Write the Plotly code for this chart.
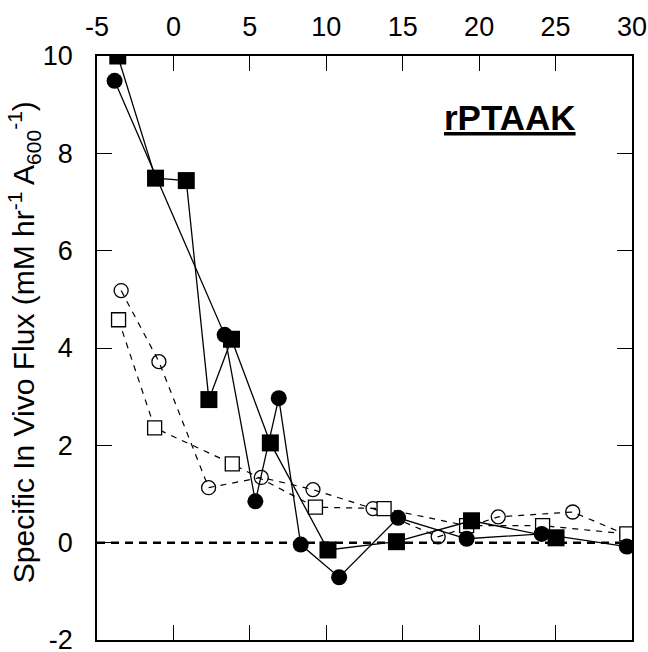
import plotly.graph_objects as go

# Filled circles (solid line)
fc_x = [-3.85, 3.35, 5.36, 6.89, 8.33, 10.84, 14.70, 19.18, 24.09, 29.66]
fc_y = [9.49, 4.27, 0.85, 2.97, -0.04, -0.71, 0.51, 0.08, 0.18, -0.08]
# Filled squares (solid line)
fs_x = [-3.64, -1.17, 0.84, 2.32, 3.80, 6.34, 10.11, 14.59, 19.50, 25.03]
fs_y = [10.0, 7.49, 7.44, 2.94, 4.18, 2.05, -0.15, 0.02, 0.45, 0.10]
# Open circles (dashed line)
oc_x = [-3.42, -0.95, 2.30, 5.75, 9.13, 13.06, 17.32, 21.25, 26.12, 29.66]
oc_y = [5.18, 3.72, 1.13, 1.34, 1.09, 0.70, 0.12, 0.53, 0.63, 0.16]
# Open squares (dashed line)
os_x = [-3.59, -1.23, 3.85, 9.29, 13.78, 19.18, 24.15, 29.66]
os_y = [4.58, 2.36, 1.62, 0.73, 0.70, 0.35, 0.35, 0.18]

x_ticks = [-5, 0, 5, 10, 15, 20, 25, 30]
x_labels = ["-5", "0", "5", "10", "15", "20", "25", "30"]
y_ticks = [-2, 0, 2, 4, 6, 8, 10]
y_labels = ["-2", "0", "2", "4", "6", "8", "10"]

FONT = "Liberation Sans, Arial, Helvetica, sans-serif"

fig = go.Figure()

fig.add_shape(type="line", xref="paper", yref="y", x0=0, x1=1, y0=0, y1=0,
              line=dict(color="black", width=2.5, dash="8px,6px"), layer="below")

fig.add_trace(go.Scatter(x=oc_x, y=oc_y, mode="lines+markers",
                         line=dict(color="black", width=1.2, dash="6px,6px"),
                         marker=dict(symbol="circle-open", size=14, color="black",
                                     line=dict(width=1.3))))
fig.add_trace(go.Scatter(x=os_x, y=os_y, mode="lines+markers",
                         line=dict(color="black", width=1.2, dash="6px,6px"),
                         marker=dict(symbol="square", size=14, color="white",
                                     line=dict(width=1.3, color="black"))))
fig.add_trace(go.Scatter(x=fc_x, y=fc_y, mode="lines+markers",
                         line=dict(color="black", width=1.3),
                         marker=dict(symbol="circle", size=16, color="black")))
fig.add_trace(go.Scatter(x=fs_x, y=fs_y, mode="lines+markers",
                         line=dict(color="black", width=1.3),
                         marker=dict(symbol="square", size=17, color="black")))

fig.add_annotation(text="<b><u>rPTAAK</u></b>", xref="paper", yref="paper",
                   x=(510 - 97.5) / 535, y=1 - (117 - 56) / 584,
                   xanchor="center", yanchor="middle",
                   showarrow=False, font=dict(size=35, family=FONT, color="black"))

fig.add_annotation(text="Specific In Vivo Flux (mM hr<sup>-1</sup> A<sub>600</sub><sup>-1</sup>)",
                   xref="paper", yref="paper", x=0, y=0.51, xshift=-73,
                   textangle=-90, showarrow=False, xanchor="center", yanchor="middle",
                   font=dict(size=30, family=FONT, color="black"))

fig.update_layout(
    width=648, height=652,
    margin=dict(l=97, r=16, t=56, b=12, autoexpand=False),
    plot_bgcolor="white", paper_bgcolor="white",
    showlegend=False,
    font=dict(family=FONT, size=27, color="black"),
    xaxis=dict(range=[-5, 30], tickvals=x_ticks, ticktext=x_labels, side="top",
               ticks="inside", ticklen=15, tickwidth=1.3, tickcolor="black",
               showline=True, linecolor="black", linewidth=1.5, mirror="ticks",
               showgrid=False, zeroline=False, ticklabelstandoff=7,
               ticklabeloverflow="allow",
               automargin=False, tickfont=dict(size=27, family=FONT)),
    yaxis=dict(range=[-2, 10], tickvals=y_ticks, ticktext=y_labels, ticks="inside",
               ticklen=15, tickwidth=1.3, tickcolor="black", showline=True,
               linecolor="black", linewidth=1.5, mirror="ticks", showgrid=False,
               zeroline=False, ticklabelstandoff=17, automargin=False,
               ticklabeloverflow="allow",
               tickfont=dict(size=27, family=FONT)),
)

fig.write_html("out.html", config={"displayModeBar": False},
               post_script="document.body.style.margin='0';document.body.style.overflow='hidden';")
